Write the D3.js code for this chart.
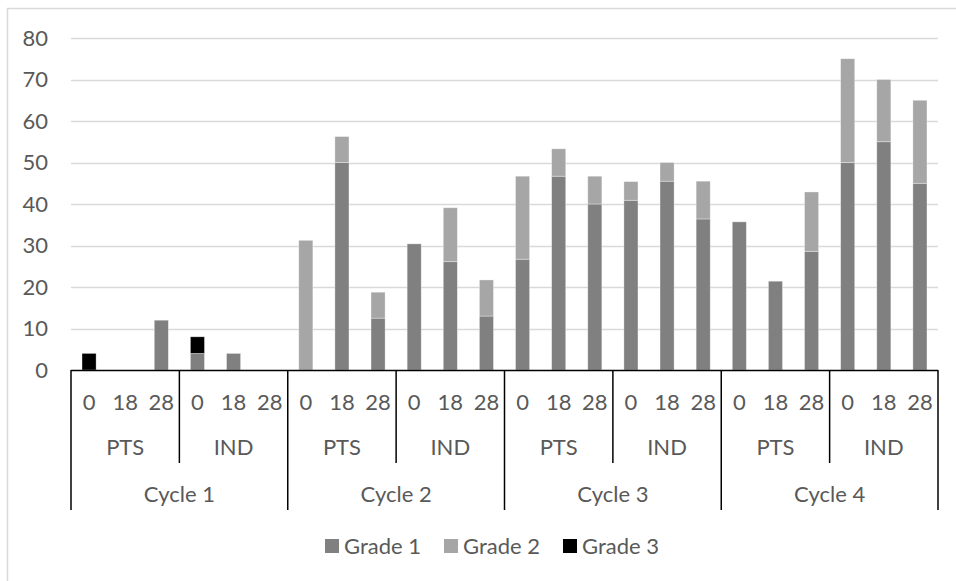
<!DOCTYPE html>
<html><head><meta charset="utf-8">
<script src="https://cdn.jsdelivr.net/npm/d3@7"></script>
<style>body{margin:0;background:#fff}svg{display:block}text{font-family:Lato,"Liberation Sans",sans-serif;fill:#595959}</style>
</head><body><svg id="c" width="956" height="581"></svg>
<script>
// ---- data ----
const cycles = ["Cycle 1","Cycle 2","Cycle 3","Cycle 4"];
const arms = ["PTS","IND"];
const days = ["0","18","28"];
const grade1 = [0,0,12, 4,4,0, 0,50,12.5, 30.4,26.1,13, 26.7,46.7,40, 40.9,45.5,36.4, 35.7,21.4,28.6, 50,55,45];
const grade2 = [0,0,0, 0,0,0, 31.25,6.25,6.25, 0,13,8.7, 20,6.6,6.7, 4.5,4.5,9.1, 0,0,14.3, 25,15,20];
const grade3 = [4,0,0, 4,0,0, 0,0,0, 0,0,0, 0,0,0, 0,0,0, 0,0,0, 0,0,0];
const seriesNames = ["Grade 1","Grade 2","Grade 3"];
const colors = ["#808080","#a6a6a6","#000000"];
const yTicks = [0,10,20,30,40,50,60,70,80];

(function(){
const rows = [];
cycles.forEach((c,ci)=>arms.forEach((a,ai)=>days.forEach((d,di)=>{
  const i = ci*6+ai*3+di;
  rows.push({key:c+"|"+a+"|"+d, cycle:c, arm:a, day:d, "Grade 1":grade1[i], "Grade 2":grade2[i], "Grade 3":grade3[i]});
})));

const svg = d3.select("#c");
const FS = 22;
svg.append("rect").attr("x",7.5).attr("y",8.5).attr("width",970).attr("height",600)
  .attr("fill","none").attr("stroke","#d9d9d9").attr("stroke-width",1.5);

const pL = 71, pR = 938, pT = 38, pB = 370;
const x = d3.scaleBand().domain(rows.map(r=>r.key)).range([pL,pR]).paddingInner(0.61).paddingOuter(0.305);
const y = d3.scaleLinear().domain([0,80]).range([pB,pT]);

svg.append("g").selectAll("line").data(yTicks.filter(t=>t>0)).join("line")
  .attr("x1",pL).attr("x2",pR).attr("y1",d=>Math.round(y(d))+0.5).attr("y2",d=>Math.round(y(d))+0.5)
  .attr("stroke","#d9d9d9").attr("stroke-width",1.5);

const yAxis = d3.axisLeft(y).tickValues(yTicks).tickSize(0).tickPadding(23);
const ga = svg.append("g").attr("transform",`translate(${pL},0)`).call(yAxis);
ga.select(".domain").remove();
ga.selectAll("text").style("font-size",FS+"px").attr("fill","#595959").style("font-family","Lato");

const stack = d3.stack().keys(seriesNames)(rows);
svg.append("g").selectAll("g").data(stack).join("g").attr("fill",(d,i)=>colors[i])
  .selectAll("rect").data(d=>d.filter(p=>p[1]-p[0]>0)).join("rect")
  .attr("x",d=>x(d.data.key)).attr("width",x.bandwidth())
  .attr("y",d=>y(d[1])).attr("height",d=>y(d[0])-y(d[1]))
  .attr("stroke","#ffffff").attr("stroke-opacity",0.45).attr("stroke-width",0.75);

const step = x.step();
const slotL = i => x(rows[i].key) - (step - x.bandwidth())/2;
const ax = svg.append("g");
ax.append("line").attr("x1",pL).attr("x2",pR).attr("y1",pB+0.5).attr("y2",pB+0.5).attr("stroke","#000").attr("stroke-width",1.5);
ax.selectAll("text.day").data(rows).join("text").attr("class","day")
  .attr("x",d=>x(d.key)+x.bandwidth()/2).attr("y",402).attr("dy","0.35em").attr("text-anchor","middle")
  .style("font-size",FS+"px").text(d=>d.day);
const armGroups = [];
cycles.forEach((c,ci)=>arms.forEach((a,ai)=>armGroups.push({label:a, start:ci*6+ai*3})));
ax.selectAll("line.arm").data(armGroups.filter((g,i)=>i%2===1)).join("line").attr("class","arm")
  .attr("x1",d=>slotL(d.start)).attr("x2",d=>slotL(d.start)).attr("y1",pB).attr("y2",463)
  .attr("stroke","#000").attr("stroke-width",1.5);
ax.selectAll("text.arm").data(armGroups).join("text").attr("class","arm")
  .attr("x",d=>slotL(d.start)+1.5*step).attr("y",447).attr("dy","0.35em").attr("text-anchor","middle")
  .style("font-size",FS+"px").text(d=>d.label);
const cyc = cycles.map((c,ci)=>({label:c,start:ci*6}));
const bounds = cyc.map(d=>slotL(d.start)).concat([pR]);
ax.selectAll("line.cyc").data(bounds).join("line").attr("class","cyc")
  .attr("x1",d=>d).attr("x2",d=>d).attr("y1",pB).attr("y2",510)
  .attr("stroke","#000").attr("stroke-width",1.5);
ax.selectAll("text.cyc").data(cyc).join("text").attr("class","cyc")
  .attr("x",d=>slotL(d.start)+3*step).attr("y",494).attr("dy","0.35em").attr("text-anchor","middle")
  .style("font-size",FS+"px").text(d=>d.label);

const legX = [325,444,563];
const lg = svg.append("g").selectAll("g").data(seriesNames).join("g")
  .attr("transform",(d,i)=>`translate(${legX[i]},539)`);
lg.append("rect").attr("width",14).attr("height",14).attr("fill",(d,i)=>colors[i]);
lg.append("text").attr("x",19).attr("y",7).attr("dy","0.35em").style("font-size",FS+"px").text(d=>d);
})();
</script></body></html>
